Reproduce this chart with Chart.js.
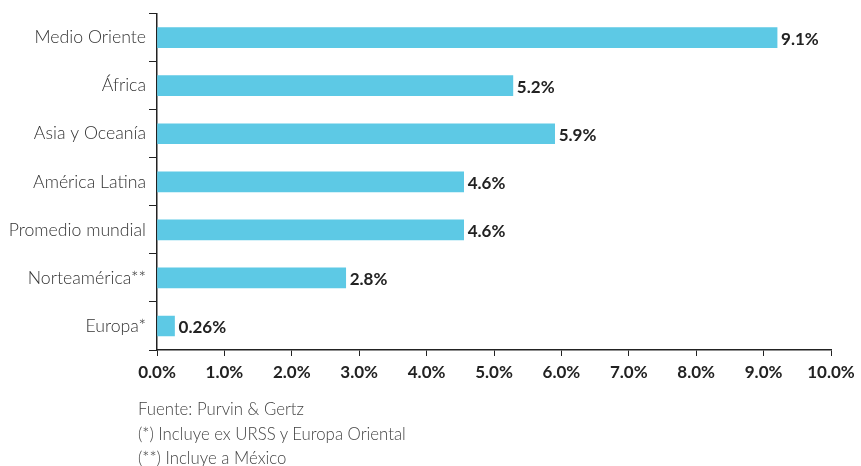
<!DOCTYPE html>
<html>
<head>
<meta charset="utf-8">
<script src="https://cdn.jsdelivr.net/npm/chart.js@4"></script>
<style>
  body { margin: 0; background: #fff; }
  .wrap { position: relative; width: 861px; height: 466px; }
  .note { position: absolute; left: 138px; font-family: Lato, sans-serif; font-weight: 300; font-size: 16.8px; color: #444; }
</style>
</head>
<body>
<div class="wrap">
  <canvas id="myChart" width="861" height="466"></canvas>
  <div class="note" style="top:398px">Fuente: Purvin &amp; Gertz</div>
  <div class="note" style="top:423px">(*) Incluye ex URSS y Europa Oriental</div>
  <div class="note" style="top:447px">(**) Incluye a México</div>
</div>
<script>
const categories = ["Medio Oriente", "África", "Asia y Oceanía", "América Latina", "Promedio mundial", "Norteamérica**", "Europa*"];
const values = [9.2, 5.28, 5.9, 4.55, 4.55, 2.8, 0.26];
const valueLabels = ["9.1%", "5.2%", "5.9%", "4.6%", "4.6%", "2.8%", "0.26%"];
const xTicks = [0, 1, 2, 3, 4, 5, 6, 7, 8, 9, 10];

const valueLabelPlugin = {
    id: 'valueLabels',
    afterDatasetsDraw(chart) {
        const ctx = chart.ctx;
        const meta = chart.getDatasetMeta(0);
        ctx.save();
        ctx.font = "bold 17px Lato, sans-serif";
        ctx.fillStyle = "#222";
        ctx.textBaseline = "middle";
        meta.data.forEach((bar, i) => {
            ctx.fillText(valueLabels[i], bar.x + 4, bar.y + 2);
        });
        ctx.restore();
    }
};

var ctx = document.getElementById("myChart").getContext("2d");
var myChart = new Chart(ctx, {
    type: 'bar',
    data: {
        labels: categories,
        datasets: [{
            data: values,
            backgroundColor: "#5DC9E5",
            barThickness: 20
        }]
    },
    plugins: [valueLabelPlugin],
    options: {
        indexAxis: 'y',
        responsive: false,
        animation: false,
        layout: { padding: { top: 12, right: 30, left: 0, bottom: 0 } },
        plugins: {
            legend: { display: false },
            tooltip: { enabled: false }
        },
        scales: {
            x: {
                min: 0,
                max: 10,
                afterFit: (scale) => { scale.height = 116; },
                afterBuildTicks: (scale) => { scale.ticks = xTicks.map(v => ({ value: v })); },
                grid: { drawOnChartArea: false, tickLength: 6, color: "#222" },
                border: { color: "#222", width: 1.5 },
                ticks: {
                    callback: (v) => v.toFixed(1) + "%",
                    color: "#222",
                    padding: 6,
                    maxRotation: 0,
                    font: { family: "Lato", size: 17, weight: "bold" }
                }
            },
            y: {
                afterFit: (scale) => { scale.width = 157; },
                grid: { drawOnChartArea: false, tickLength: 8, color: "#222" },
                border: { color: "#222", width: 1.5 },
                ticks: {
                    color: "#333",
                    padding: 3,
                    font: { family: "Lato", size: 17.7, weight: 300 }
                }
            }
        }
    }
});
</script>
</body>
</html>
